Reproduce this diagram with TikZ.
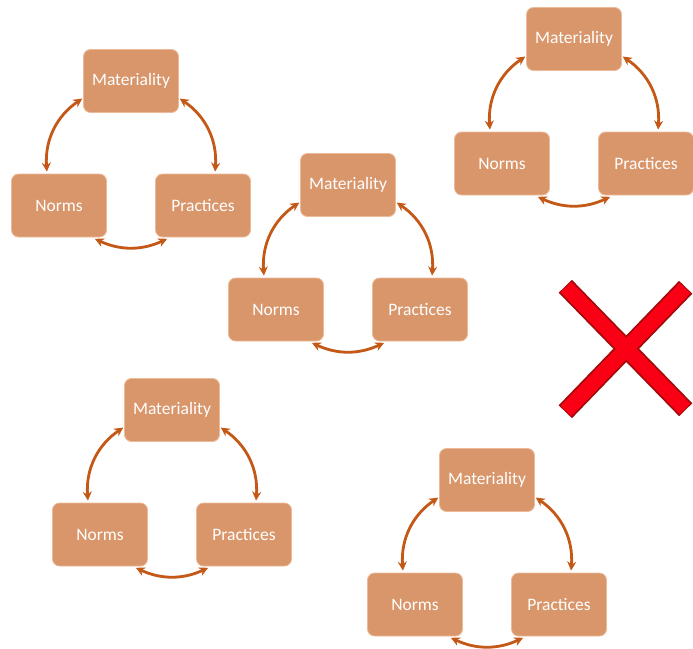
\documentclass[tikz,border=0pt]{standalone}
\usepackage{fontspec}
\setmainfont{Carlito}
\usetikzlibrary{arrows.meta}
\definecolor{boxfill}{RGB}{217,150,107}
\definecolor{boxline}{RGB}{236,186,152}
\definecolor{linkcol}{RGB}{196,88,22}
\definecolor{crossfill}{RGB}{250,0,20}
\definecolor{crossline}{RGB}{160,10,10}
\begin{document}
\begin{tikzpicture}[x=1pt,y=1pt,
  conceptbox/.style={rectangle, rounded corners=7pt, fill=boxfill, draw=boxline,
    line width=0.8pt, minimum width=95pt, minimum height=63pt, inner sep=0pt,
    text=white, font=\fontsize{17.5}{20}\selectfont},
  link/.style={draw=linkcol, line width=2.8pt,
    {Stealth[length=9pt,width=9pt]}-{Stealth[length=9pt,width=9pt]},
    shorten <=1pt, shorten >=1pt}]
\useasboundingbox (0,0) rectangle (693,-648);

% five triads: materiality on top, norms and practices below
\foreach \i/\cx/\cy in {1/131/81, 2/348/185, 3/574/39, 4/172/410, 5/487/480}{
  \node[conceptbox] (m\i) at (\cx,-\cy) {Materiality};
  \node[conceptbox] (n\i) at (\cx-72,-\cy-124.5) {Norms};
  \node[conceptbox] (p\i) at (\cx+72,-\cy-124.5) {Practices};
  \draw[link] ([yshift=-17pt]m\i.west) to[bend right=30] ([xshift=-12pt,yshift=1pt]n\i.north);
  \draw[link] ([yshift=-17pt]m\i.east) to[bend left=30] ([xshift=12pt,yshift=1pt]p\i.north);
  \draw[link] ([xshift=35pt,yshift=-1pt]n\i.south) to[bend right=25] ([xshift=-35pt,yshift=-1pt]p\i.south);
}

% red cross: outline strokes first, then the fill on top
\draw[crossline, line width=18.5pt, shorten <=-1pt, shorten >=-1pt] (566,-287) -- (685,-409);
\draw[crossline, line width=18.5pt, shorten <=-1pt, shorten >=-1pt] (685,-288) -- (566,-411);
\draw[crossfill, line width=15pt] (566,-287) -- (685,-409);
\draw[crossfill, line width=15pt] (685,-288) -- (566,-411);
\end{tikzpicture}
\end{document}
